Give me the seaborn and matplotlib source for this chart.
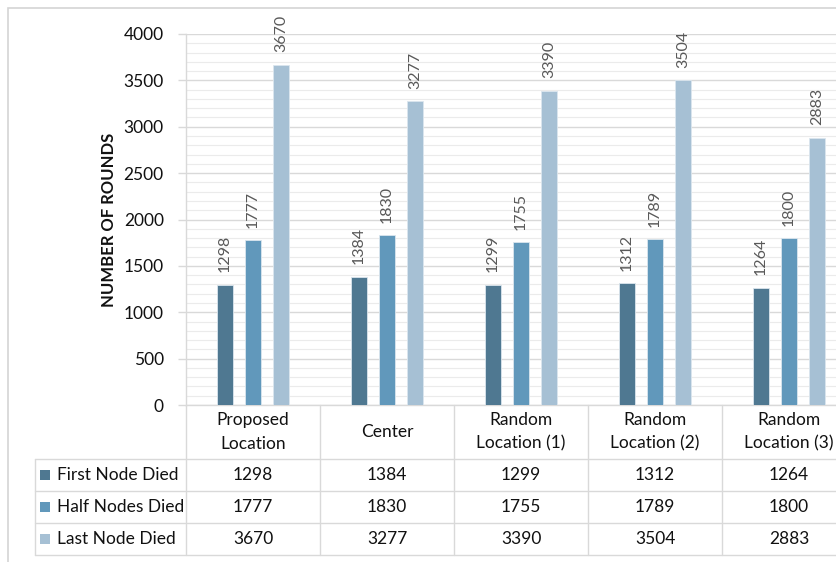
import matplotlib
matplotlib.use("Agg")
import matplotlib.pyplot as plt
from matplotlib.patches import Rectangle
from matplotlib.ticker import MultipleLocator
import pandas as pd
import seaborn as sns

# ---- data ----
locations = ["Proposed\nLocation", "Center", "Random\nLocation (1)",
             "Random\nLocation (2)", "Random\nLocation (3)"]
series_names = ["First Node Died", "Half Nodes Died", "Last Node Died"]
first_node_died = [1298, 1384, 1299, 1312, 1264]
half_nodes_died = [1777, 1830, 1755, 1789, 1800]
last_node_died = [3670, 3277, 3390, 3504, 2883]
y_ticks = [0, 500, 1000, 1500, 2000, 2500, 3000, 3500, 4000]

series_values = [first_node_died, half_nodes_died, last_node_died]
df = pd.DataFrame({
    "location": [loc for _ in series_names for loc in locations],
    "series": [s for s in series_names for _ in locations],
    "rounds": [v for vals in series_values for v in vals],
})

colors = ["#4f7891", "#6198bb", "#a6c0d4"]
grid_major = "#d9d9d9"
grid_minor = "#ebebeb"
FONT = ["Lato", "DejaVu Sans"]

sns.set_theme(style="white")
plt.rcParams["font.family"] = FONT

W, H = 836, 562
fig = plt.figure(figsize=(W / 100, H / 100), dpi=100)

def fx(px):
    return px / W

def fy(py):
    return 1 - py / H

# outer chart frame
fig.patches.append(Rectangle((fx(8), fy(H + 20)), 1.2, (H + 12) / H,
                             transform=fig.transFigure, fill=False,
                             edgecolor="#d4d4d4", linewidth=1.2))

ax_left, ax_right, ax_top, ax_bottom = 186, 856, 34, 405
ax = fig.add_axes([fx(ax_left), fy(ax_bottom),
                   (ax_right - ax_left) / W, (ax_bottom - ax_top) / H])

sns.barplot(data=df, x="location", y="rounds", hue="series",
            hue_order=series_names, order=locations, palette=colors,
            width=0.627, gap=0.45, saturation=1, ax=ax, legend=False,
            edgecolor="#dbe6ee", linewidth=0.6, zorder=3)

ax.set_xlim(-0.5, len(locations) - 0.5)
ax.set_ylim(0, 4000)
ax.set_yticks(y_ticks)
ax.yaxis.set_minor_locator(MultipleLocator(100))
ax.grid(axis="y", which="major", color=grid_major, linewidth=1.0, zorder=0)
ax.grid(axis="y", which="minor", color=grid_minor, linewidth=0.8, zorder=0)
ax.set_axisbelow(True)
ax.tick_params(axis="y", which="major", length=6, width=1, color=grid_major,
               labelsize=12.5, labelcolor="#111111", pad=10, left=True)
ax.tick_params(axis="y", which="minor", length=0)
ax.tick_params(axis="x", bottom=False, labelbottom=False)
ax.set_xlabel("")
ax.set_ylabel("NUMBER OF ROUNDS", fontsize=12, fontweight="bold",
              color="#111111", labelpad=5)
for side in ["top", "right"]:
    ax.spines[side].set_visible(False)
for side in ["left", "bottom"]:
    ax.spines[side].set_color(grid_major)
    ax.spines[side].set_linewidth(1.0)

# value labels above each bar
for container in ax.containers:
    ax.bar_label(container, labels=[f"{int(v)}" for v in container.datavalues],
                 rotation=90, padding=9, fontsize=11.5, color="#595959")

# ---- data table under the plot ----
table_left = 35
header_bottom = 459
row_h = 32
col_w = (ax_right - ax_left) / len(locations)
line_kw = dict(color=grid_major, linewidth=1.0, transform=fig.transFigure)

# column separators
for k in range(len(locations) + 1):
    x = fx(ax_left + k * col_w)
    fig.add_artist(plt.Line2D([x, x], [fy(ax_bottom), fy(header_bottom + 3 * row_h)], **line_kw))
# left border of the row-label column
fig.add_artist(plt.Line2D([fx(table_left)] * 2,
                          [fy(header_bottom), fy(header_bottom + 3 * row_h)], **line_kw))
# row separators
for r in range(4):
    y = fy(header_bottom + r * row_h)
    fig.add_artist(plt.Line2D([fx(table_left), 1.05], [y, y], **line_kw))

# header: category names
for k, loc in enumerate(locations):
    fig.text(fx(ax_left + (k + 0.5) * col_w), fy((ax_bottom + header_bottom) / 2),
             loc, ha="center", va="center", fontsize=12.5, color="#111111",
             linespacing=1.55)

# rows: legend key, series name, values
for r, (name, vals) in enumerate(zip(series_names, series_values)):
    yc = header_bottom + (r + 0.5) * row_h
    fig.patches.append(Rectangle((fx(40), fy(yc + 5)), 10 / W, 10 / H,
                                 transform=fig.transFigure,
                                 facecolor=colors[r], edgecolor="none"))
    fig.text(fx(57), fy(yc), name, ha="left", va="center",
             fontsize=12.5, color="#111111")
    for k, v in enumerate(vals):
        fig.text(fx(ax_left + (k + 0.5) * col_w), fy(yc), f"{v}",
                 ha="center", va="center", fontsize=12.5, color="#111111")

fig.savefig("out.png", dpi=100, facecolor="white")
